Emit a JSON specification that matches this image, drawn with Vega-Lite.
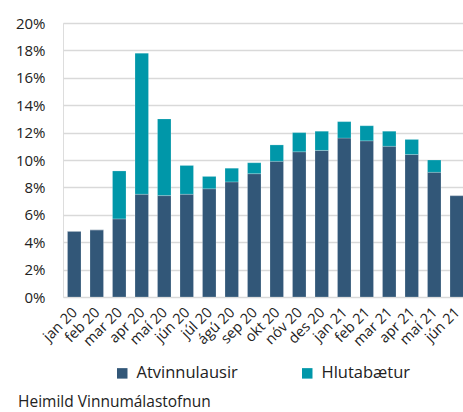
{
  "$schema": "https://vega.github.io/schema/vega-lite/v6.json",
  "width": 405,
  "height": 274,
  "autosize": "none",
  "padding": {"left": 63, "top": 23, "right": 0, "bottom": 115},
  "background": "white",
  "data": {
    "values": [
      {"month": "jan 20", "series": "Atvinnulausir", "value": 4.8},
      {"month": "feb 20", "series": "Atvinnulausir", "value": 4.9},
      {"month": "mar 20", "series": "Atvinnulausir", "value": 5.7},
      {"month": "apr 20", "series": "Atvinnulausir", "value": 7.5},
      {"month": "maí 20", "series": "Atvinnulausir", "value": 7.4},
      {"month": "jún 20", "series": "Atvinnulausir", "value": 7.5},
      {"month": "júl 20", "series": "Atvinnulausir", "value": 7.9},
      {"month": "ágú 20", "series": "Atvinnulausir", "value": 8.4},
      {"month": "sep 20", "series": "Atvinnulausir", "value": 9.0},
      {"month": "okt 20", "series": "Atvinnulausir", "value": 9.9},
      {"month": "nóv 20", "series": "Atvinnulausir", "value": 10.6},
      {"month": "des 20", "series": "Atvinnulausir", "value": 10.7},
      {"month": "jan 21", "series": "Atvinnulausir", "value": 11.6},
      {"month": "feb 21", "series": "Atvinnulausir", "value": 11.4},
      {"month": "mar 21", "series": "Atvinnulausir", "value": 11.0},
      {"month": "apr 21", "series": "Atvinnulausir", "value": 10.4},
      {"month": "maí 21", "series": "Atvinnulausir", "value": 9.1},
      {"month": "jún 21", "series": "Atvinnulausir", "value": 7.4},
      {"month": "jan 20", "series": "Hlutabætur", "value": 0},
      {"month": "feb 20", "series": "Hlutabætur", "value": 0},
      {"month": "mar 20", "series": "Hlutabætur", "value": 3.5},
      {"month": "apr 20", "series": "Hlutabætur", "value": 10.3},
      {"month": "maí 20", "series": "Hlutabætur", "value": 5.6},
      {"month": "jún 20", "series": "Hlutabætur", "value": 2.1},
      {"month": "júl 20", "series": "Hlutabætur", "value": 0.9},
      {"month": "ágú 20", "series": "Hlutabætur", "value": 1.0},
      {"month": "sep 20", "series": "Hlutabætur", "value": 0.8},
      {"month": "okt 20", "series": "Hlutabætur", "value": 1.2},
      {"month": "nóv 20", "series": "Hlutabætur", "value": 1.4},
      {"month": "des 20", "series": "Hlutabætur", "value": 1.4},
      {"month": "jan 21", "series": "Hlutabætur", "value": 1.2},
      {"month": "feb 21", "series": "Hlutabætur", "value": 1.1},
      {"month": "mar 21", "series": "Hlutabætur", "value": 1.1},
      {"month": "apr 21", "series": "Hlutabætur", "value": 1.1},
      {"month": "maí 21", "series": "Hlutabætur", "value": 0.9},
      {"month": "jún 21", "series": "Hlutabætur", "value": 0}
    ]
  },
  "title": {
    "text": "Heimild Vinnumálastofnun",
    "orient": "bottom",
    "anchor": "start",
    "frame": "group",
    "dx": -45,
    "dy": 9,
    "font": "Open Sans",
    "fontSize": 15.5,
    "fontWeight": "normal",
    "color": "#222222"
  },
  "mark": {"type": "bar", "stroke": "#ffffff", "strokeOpacity": 0.35, "strokeWidth": 0.6},
  "encoding": {
    "x": {
      "field": "month",
      "type": "nominal",
      "sort": null,
      "scale": {"paddingInner": 0.4, "paddingOuter": 0.2},
      "axis": {
        "title": null,
        "labelAngle": -45,
        "labelFont": "Open Sans",
        "labelFontSize": 14.5,
        "labelColor": "#222222",
        "ticks": false,
        "domain": false,
        "labelPadding": 8,
        "labelOffset": -4,
        "labelOverlap": false
      }
    },
    "y": {
      "field": "value",
      "type": "quantitative",
      "stack": "zero",
      "scale": {"domain": [0, 20]},
      "axis": {
        "title": null,
        "values": [0, 2, 4, 6, 8, 10, 12, 14, 16, 18, 20],
        "labelExpr": "datum.value + '%'",
        "labelFont": "Open Sans",
        "labelFontSize": 15,
        "labelColor": "#222222",
        "labelPadding": 18,
        "ticks": false,
        "domain": false,
        "grid": true,
        "gridColor": "#d9d9d9",
        "gridWidth": 1.5
      }
    },
    "color": {
      "field": "series",
      "type": "nominal",
      "scale": {"domain": ["Atvinnulausir", "Hlutabætur"], "range": ["#325778", "#0097a9"]},
      "legend": {
        "title": null,
        "orient": "none",
        "direction": "horizontal",
        "legendX": 51,
        "legendY": 342,
        "symbolType": "square",
        "symbolSize": 110,
        "symbolStrokeWidth": 0,
        "labelFont": "Open Sans",
        "labelFontSize": 16.5,
        "labelColor": "#222222",
        "columnPadding": 61,
        "labelOffset": 6
      }
    },
    "order": {"field": "series", "sort": "ascending"}
  }
}
